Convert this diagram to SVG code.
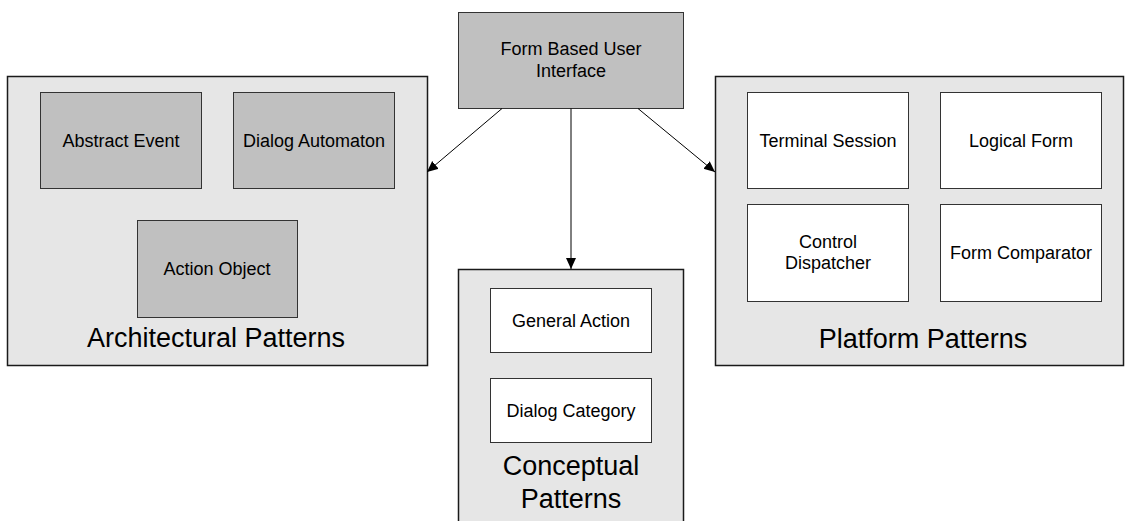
<svg xmlns="http://www.w3.org/2000/svg" width="1125" height="521" viewBox="0 0 1125 521">
<style>
.cont{fill:#e6e6e6;stroke:#1a1a1a;stroke-width:1.5}
.g{fill:#c0c0c0;stroke:#333;stroke-width:1}
.w{fill:#fff;stroke:#333;stroke-width:1}
.t{font-family:"Liberation Sans",Arial,sans-serif;font-size:18px;fill:#000;text-anchor:middle}
.big{font-family:"Liberation Sans",Arial,sans-serif;font-size:27px;fill:#000;text-anchor:middle}
.c{stroke:#000;stroke-width:1;fill:none;marker-end:url(#ah)}
</style>
<defs>
<marker id="ah" markerWidth="12" markerHeight="12" refX="11" refY="5" orient="auto" markerUnits="userSpaceOnUse">
<path d="M0,0 L11,5 L0,10 z" fill="#000"/>
</marker>
</defs>
<rect width="1125" height="521" fill="#fff"/>
<g id="architectural">
<rect class="cont" x="7.5" y="76.5" width="420" height="289"/>
<text class="big" x="216" y="347">Architectural Patterns</text>
</g>
<g id="abstract-event">
<rect class="g" x="40.5" y="92.5" width="161" height="96"/>
<text class="t" x="121" y="147">Abstract Event</text>
</g>
<g id="dialog-automaton">
<rect class="g" x="233.5" y="92.5" width="161" height="96"/>
<text class="t" x="314" y="147">Dialog Automaton</text>
</g>
<g id="action-object">
<rect class="g" x="137.5" y="220.5" width="160" height="97"/>
<text class="t" x="217" y="275">Action Object</text>
</g>
<g id="platform">
<rect class="cont" x="715.5" y="76.5" width="408" height="289"/>
<text class="big" x="923" y="348">Platform Patterns</text>
</g>
<g id="terminal-session">
<rect class="w" x="747.5" y="92.5" width="161" height="96"/>
<text class="t" x="828" y="147">Terminal Session</text>
</g>
<g id="logical-form">
<rect class="w" x="940.5" y="92.5" width="161" height="96"/>
<text class="t" x="1021" y="147">Logical Form</text>
</g>
<g id="control-dispatcher">
<rect class="w" x="747.5" y="204.5" width="161" height="97"/>
<text class="t" x="828" y="248">Control</text>
<text class="t" x="828" y="269">Dispatcher</text>
</g>
<g id="form-comparator">
<rect class="w" x="940.5" y="204.5" width="161" height="97"/>
<text class="t" x="1021" y="259">Form Comparator</text>
</g>
<g id="conceptual">
<rect class="cont" x="458.5" y="269.5" width="225" height="260"/>
<text class="big" x="571" y="475">Conceptual</text>
<text class="big" x="571" y="508">Patterns</text>
</g>
<g id="general-action">
<rect class="w" x="490.5" y="288.5" width="161" height="64"/>
<text class="t" x="571" y="327">General Action</text>
</g>
<g id="dialog-category">
<rect class="w" x="490.5" y="378.5" width="161" height="64"/>
<text class="t" x="571" y="417">Dialog Category</text>
</g>
<g id="form-ui">
<rect class="g" x="458.5" y="12.5" width="225" height="96"/>
<text class="t" x="571" y="55">Form Based User</text>
<text class="t" x="571" y="77">Interface</text>
</g>
<g id="connectors">
<line class="c" x1="502" y1="108.5" x2="427" y2="172"/>
<line class="c" x1="571" y1="108.5" x2="571" y2="269"/>
<line class="c" x1="638" y1="108.5" x2="715" y2="172"/>
</g>
</svg>
